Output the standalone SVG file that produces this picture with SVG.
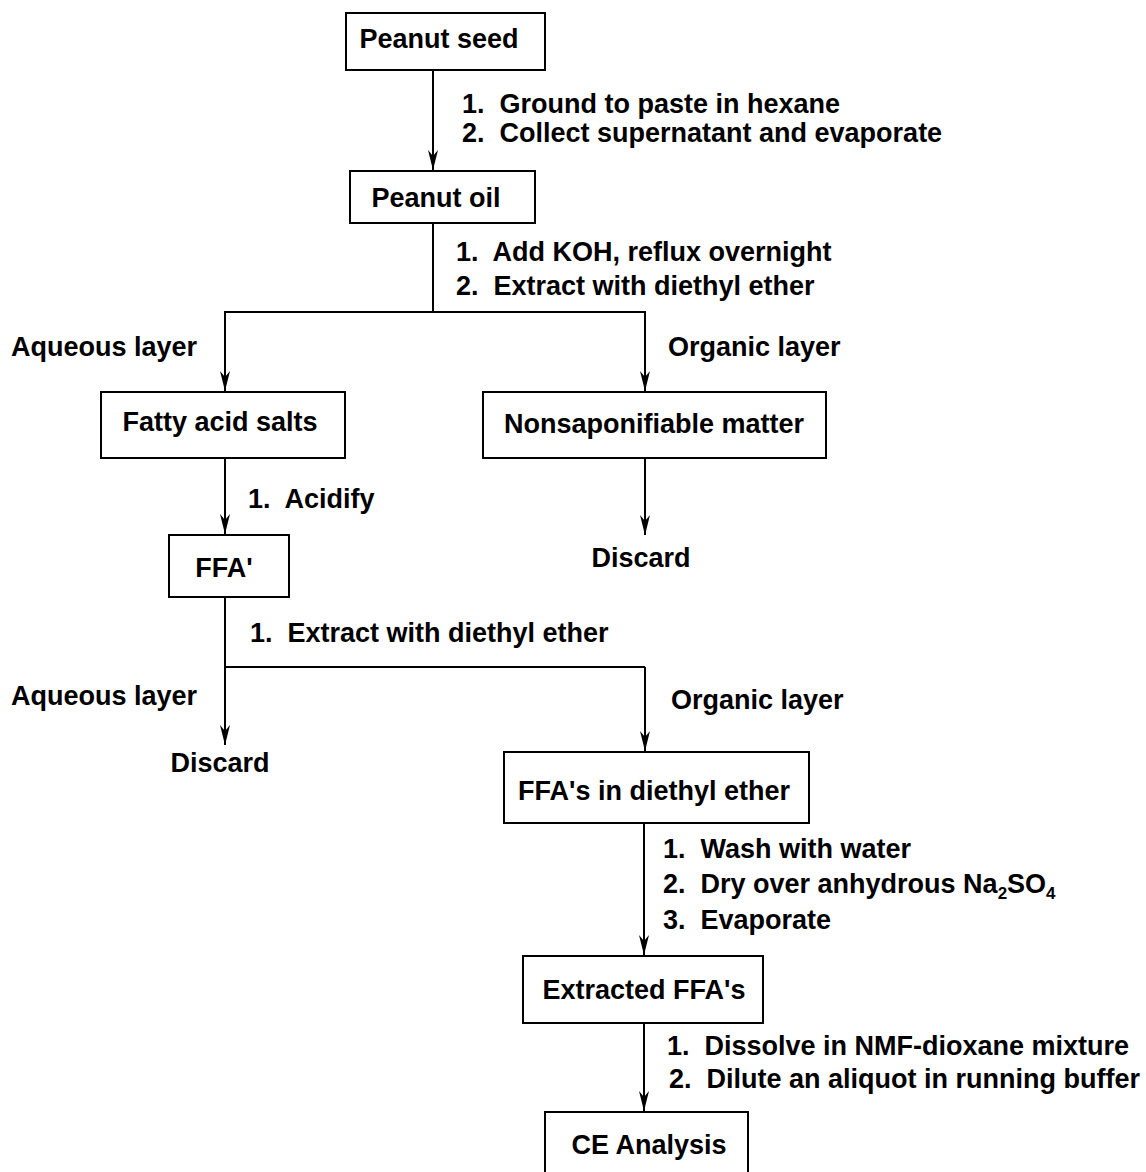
<svg xmlns="http://www.w3.org/2000/svg" width="1146" height="1172" viewBox="0 0 1146 1172">
<style>
.box{fill:#fff;stroke:#000;stroke-width:2}
.t{font-family:"Liberation Sans",Arial,Helvetica,sans-serif;font-weight:bold;font-size:27px;fill:#000;white-space:pre}
.c{text-anchor:middle}
.sub{font-size:17px}
.ln{fill:none;stroke:#000;stroke-width:2}
</style>
<defs>
<marker id="ah" markerUnits="userSpaceOnUse" markerWidth="24" markerHeight="14" viewBox="-22 -7 24 14" refX="0" refY="0" orient="auto">
<path d="M0,0 L-20,-5 L-14,0 L-20,5 Z" fill="#000"/>
</marker>
</defs>
<rect width="1146" height="1172" fill="#fff"/>
<g id="connectors">
<path class="ln" d="M433,70 V170" marker-end="url(#ah)"/>
<path class="ln" d="M433,223 V312"/>
<path class="ln" d="M224,312 H646"/>
<path class="ln" d="M225,312 V391" marker-end="url(#ah)"/>
<path class="ln" d="M645,312 V391" marker-end="url(#ah)"/>
<path class="ln" d="M225,458 V534" marker-end="url(#ah)"/>
<path class="ln" d="M645,458 V535" marker-end="url(#ah)"/>
<path class="ln" d="M225,597 V667 H645"/>
<path class="ln" d="M225,667 V745" marker-end="url(#ah)"/>
<path class="ln" d="M645,667 V751" marker-end="url(#ah)"/>
<path class="ln" d="M644,823 V955" marker-end="url(#ah)"/>
<path class="ln" d="M644,1023 V1111" marker-end="url(#ah)"/>
</g>
<g id="labels">
<text class="t" x="462" y="113" xml:space="preserve">1.  Ground to paste in hexane</text>
<text class="t" x="462" y="142" xml:space="preserve">2.  Collect supernatant and evaporate</text>
<text class="t" x="456" y="261" xml:space="preserve">1.  Add KOH, reflux overnight</text>
<text class="t" x="456" y="295" xml:space="preserve">2.  Extract with diethyl ether</text>
<text class="t" x="11" y="356">Aqueous layer</text>
<text class="t" x="668" y="356">Organic layer</text>
<text class="t" x="248" y="508" xml:space="preserve">1.  Acidify</text>
<text class="t c" x="641" y="567">Discard</text>
<text class="t" x="250" y="642" xml:space="preserve">1.  Extract with diethyl ether</text>
<text class="t" x="11" y="705">Aqueous layer</text>
<text class="t" x="671" y="709">Organic layer</text>
<text class="t c" x="220" y="772">Discard</text>
<text class="t" x="663" y="858" xml:space="preserve">1.  Wash with water</text>
<text class="t" x="663" y="893" xml:space="preserve">2.  Dry over anhydrous Na<tspan class="sub" dy="6">2</tspan><tspan dy="-6">SO</tspan><tspan class="sub" dy="6">4</tspan></text>
<text class="t" x="663" y="929" xml:space="preserve">3.  Evaporate</text>
<text class="t" x="667" y="1055" xml:space="preserve">1.  Dissolve in NMF-dioxane mixture</text>
<text class="t" x="669" y="1088" xml:space="preserve">2.  Dilute an aliquot in running buffer</text>
</g>
<g id="n-peanut-seed"><rect class="box" x="346" y="13" width="199" height="57"/><text class="t c" x="439" y="48">Peanut seed</text></g>
<g id="n-peanut-oil"><rect class="box" x="350" y="171" width="185" height="52"/><text class="t c" x="436" y="207">Peanut oil</text></g>
<g id="n-fatty-acid-salts"><rect class="box" x="101" y="392" width="244" height="66"/><text class="t c" x="220" y="431">Fatty acid salts</text></g>
<g id="n-nonsaponifiable"><rect class="box" x="483" y="392" width="343" height="66"/><text class="t c" x="654" y="433">Nonsaponifiable matter</text></g>
<g id="n-ffa1"><rect class="box" x="169" y="535" width="120" height="62"/><text class="t c" x="224" y="577">FFA'</text></g>
<g id="n-ffa-ether"><rect class="box" x="504" y="752" width="305" height="71"/><text class="t c" x="654" y="800">FFA's in diethyl ether</text></g>
<g id="n-extracted"><rect class="box" x="523" y="956" width="240" height="67"/><text class="t c" x="644" y="999">Extracted FFA's</text></g>
<g id="n-ce"><rect class="box" x="545" y="1112" width="203" height="80"/><text class="t c" x="649" y="1154">CE Analysis</text></g>
</svg>
